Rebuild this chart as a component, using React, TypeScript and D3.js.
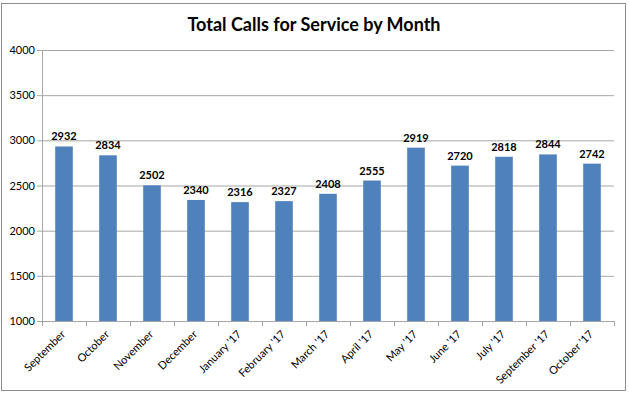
import React from "react";
import * as d3 from "d3";

const months = [
  "September",
  "October",
  "November",
  "December",
  "January '17",
  "February '17",
  "March '17",
  "April '17",
  "May '17",
  "June '17",
  "July '17",
  "September '17",
  "October '17",
];
const calls = [2932, 2834, 2502, 2340, 2316, 2327, 2408, 2555, 2919, 2720, 2818, 2844, 2742];
const yTicks = [1000, 1500, 2000, 2500, 3000, 3500, 4000];

const width = 629;
const height = 395;
const margin = { top: 50, right: 15, bottom: 74, left: 42 };
const font = "Lato, 'Open Sans', sans-serif";

function App() {
  const x = d3
    .scaleBand()
    .domain(months)
    .range([margin.left, width - margin.right])
    .paddingInner(0.6)
    .paddingOuter(0.3);
  const y = d3
    .scaleLinear()
    .domain([1000, 4000])
    .range([height - margin.bottom, margin.top]);

  const step = x.step();
  const left = margin.left;
  const right = width - margin.right;
  const bottom = y(1000);

  return (
    <div style={{ position: "absolute", left: 0, top: 0 }}>
      <svg width={width} height={height} style={{ display: "block" }}>
        <rect x={0} y={0} width={width} height={height} fill="#fff" />
        <rect x={1.5} y={3.5} width={624} height={387} fill="none" stroke="#8c8c8c" />
        <text
          x={314}
          y={31}
          textAnchor="middle"
          fontFamily={font}
          fontWeight="bold"
          fontSize={18}
          fill="#000"
        >
          Total Calls for Service by Month
        </text>

        {yTicks.map((t) => (
          <g key={t}>
            {t > 1000 && (
              <line x1={left} x2={right} y1={y(t) + 0.5} y2={y(t) + 0.5} stroke="#a6a6a6" />
            )}
            <line x1={left - 5} x2={left} y1={y(t) + 0.5} y2={y(t) + 0.5} stroke="#a6a6a6" />
            <text
              x={left - 7}
              y={y(t) + 4}
              textAnchor="end"
              fontFamily={font}
              fontSize={11}
              fill="#000"
            >
              {t}
            </text>
          </g>
        ))}

        {months.map((m, i) => (
          <rect
            key={m}
            x={x(m)}
            y={y(calls[i])}
            width={x.bandwidth()}
            height={bottom - y(calls[i])}
            fill="#4f81bd"
          />
        ))}

        {months.map((m, i) => (
          <text
            key={"v" + m}
            x={(x(m) as number) + x.bandwidth() / 2}
            y={y(calls[i]) - 6}
            textAnchor="middle"
            fontFamily={font}
            fontWeight="bold"
            fontSize={11}
            fill="#000"
          >
            {calls[i]}
          </text>
        ))}

        <line x1={left + 0.5} x2={left + 0.5} y1={margin.top} y2={bottom} stroke="#a6a6a6" />
        <line x1={left} x2={right} y1={bottom + 0.5} y2={bottom + 0.5} stroke="#a6a6a6" />
        {d3.range(months.length + 1).map((i) => (
          <line
            key={"t" + i}
            x1={left + i * step + 0.5}
            x2={left + i * step + 0.5}
            y1={bottom}
            y2={bottom + 5}
            stroke="#a6a6a6"
          />
        ))}

        {months.map((m) => {
          const cx = (x(m) as number) + x.bandwidth() / 2 + 2;
          const cy = bottom + 14;
          return (
            <text
              key={"l" + m}
              transform={`translate(${cx},${cy}) rotate(-45)`}
              textAnchor="end"
              fontFamily={font}
              fontSize={11}
              fill="#000"
            >
              {m}
            </text>
          );
        })}
      </svg>
    </div>
  );
}

export default App;
